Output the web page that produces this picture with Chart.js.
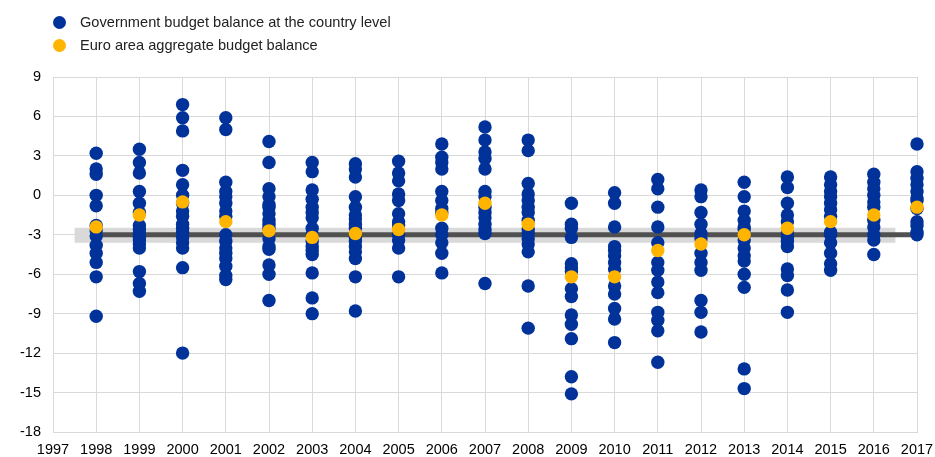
<!DOCTYPE html>
<html>
<head>
<meta charset="utf-8">
<script src="https://cdn.jsdelivr.net/npm/chart.js@4/dist/chart.umd.min.js"></script>
<style>
  body { margin: 0; background: #fff; font-family: "Liberation Sans", Arial, sans-serif; }
  #wrap { position: relative; width: 935px; height: 457px; }
  #legend { position: absolute; left: 53px; top: 12px; font-size: 14.6px; color: #222; }
  .item { height: 23px; line-height: 20px; white-space: nowrap; }
  .dot { display: inline-block; width: 13px; height: 13px; border-radius: 50%; vertical-align: -2px; margin-right: 14px; }
</style>
</head>
<body>
<div id="wrap">
  <div id="legend">
    <div class="item"><span class="dot" style="background:#003299"></span>Government budget balance at the country level</div>
    <div class="item"><span class="dot" style="background:#ffb400"></span>Euro area aggregate budget balance</div>
  </div>
  <canvas id="myChart" width="935" height="457"></canvas>
</div>
<script>
// budget balance, % of GDP
var years = [1998, 1999, 2000, 2001, 2002, 2003, 2004, 2005, 2006, 2007,
             2008, 2009, 2010, 2011, 2012, 2013, 2014, 2015, 2016, 2017];

// one list of country values per year
var countryBalances = [
  [3.2, 2.0, 1.6, 0.0, -0.8, -2.3, -2.7, -3.1, -3.8, -4.4, -5.1, -6.2, -9.2],
  [3.5, 2.5, 1.7, 0.3, -0.6, -1.3, -2.3, -2.6, -2.9, -3.2, -3.4, -3.7, -4.0, -5.8, -6.7, -7.3],
  [6.9, 5.9, 4.9, 1.9, 0.8, 0.0, -0.6, -1.2, -1.6, -2.2, -2.5, -2.8, -3.2, -3.6, -4.0, -5.5, -12.0],
  [5.9, 5.0, 1.0, 0.3, -0.1, -0.6, -1.2, -1.6, -3.0, -3.5, -4.0, -4.4, -4.8, -5.4, -6.1, -6.4],
  [4.1, 2.5, 0.5, -0.1, -0.7, -0.9, -1.4, -1.9, -2.2, -2.5, -3.3, -3.9, -4.1, -5.3, -6.0, -8.0],
  [2.5, 1.8, 0.4, -0.3, -0.9, -1.3, -1.7, -2.5, -3.0, -3.5, -3.9, -4.2, -4.5, -5.9, -7.8, -9.0],
  [2.4, 2.0, 1.4, -0.1, -0.9, -1.5, -1.8, -2.2, -2.5, -3.2, -3.5, -3.9, -4.3, -4.8, -6.2, -8.8],
  [2.6, 1.7, 1.1, 0.1, -0.4, -1.4, -2.0, -2.3, -3.0, -3.4, -4.0, -6.2],
  [3.9, 2.9, 2.5, 2.0, 0.3, -0.4, -1.0, -1.3, -2.5, -3.0, -3.6, -4.4, -5.9],
  [5.2, 4.2, 3.3, 2.8, 2.0, 0.3, -0.1, -0.9, -1.3, -1.7, -2.2, -2.6, -2.9, -6.7],
  [4.2, 3.4, 0.9, 0.1, -0.4, -0.9, -1.3, -1.9, -2.6, -2.9, -3.3, -3.7, -4.3, -6.9, -10.1],
  [-0.6, -2.2, -2.5, -3.2, -5.2, -5.5, -5.8, -7.1, -7.7, -9.1, -9.8, -10.9, -13.8, -15.1],
  [0.2, -0.6, -2.4, -3.9, -4.2, -4.6, -5.1, -5.6, -6.9, -7.5, -8.6, -9.4, -11.2],
  [1.2, 0.5, -0.9, -2.4, -3.6, -5.1, -5.7, -6.6, -7.4, -8.9, -9.5, -10.3, -12.7],
  [0.4, -0.1, -1.3, -2.2, -2.9, -3.3, -4.4, -5.1, -5.7, -8.0, -8.9, -10.4],
  [1.0, -0.1, -1.2, -1.9, -2.4, -2.6, -3.4, -4.0, -4.6, -5.0, -6.0, -7.0, -13.2, -14.7],
  [1.4, 0.6, -0.6, -1.5, -2.0, -2.9, -3.2, -3.5, -3.9, -5.6, -6.1, -7.2, -8.9],
  [1.4, 0.8, 0.3, -0.1, -0.6, -1.1, -1.6, -2.8, -3.0, -3.6, -4.4, -5.2, -5.7],
  [1.6, 1.0, 0.5, 0.0, -0.5, -0.9, -1.9, -2.4, -3.0, -3.4, -4.5],
  [3.9, 1.8, 1.3, 0.8, 0.3, -0.2, -0.4, -1.0, -2.0, -2.3, -2.8, -3.0]
];

var euroArea = [-2.4, -1.5, -0.5, -2.0, -2.7, -3.2, -2.9, -2.6, -1.5, -0.6,
                -2.2, -6.2, -6.2, -4.2, -3.7, -3.0, -2.5, -2.0, -1.5, -0.9];

// 3% deficit reference value
var thresholdValue = -3;
var yTicks = [-18, -15, -12, -9, -6, -3, 0, 3, 6, 9];

var countryPoints = [];
years.forEach(function(yr, i) {
  countryBalances[i].forEach(function(v) {
    countryPoints.push({x: yr, y: v});
  });
});
var euroPoints = years.map(function(yr, i) { return {x: yr, y: euroArea[i]}; });

var font = {family: '"Liberation Sans", Arial, sans-serif', size: 14.5};

var ctx = document.getElementById('myChart');
var myChart = new Chart(ctx, {
  type: 'scatter',
  data: {
    datasets: [
      {
        label: 'Government budget balance at the country level',
        data: countryPoints,
        backgroundColor: '#003299',
        borderWidth: 0,
        pointRadius: 6.7,
        order: 1,
        clip: false
      },
      {
        label: 'Euro area aggregate budget balance',
        data: euroPoints,
        backgroundColor: '#ffb400',
        borderWidth: 0,
        pointRadius: 6.7,
        order: 0,
        clip: false
      },
      {
        type: 'line',
        label: 'threshold',
        data: [{x: years[0], y: thresholdValue}, {x: years[years.length - 1], y: thresholdValue}],
        borderColor: '#505050',
        borderWidth: 5,
        pointRadius: 0,
        borderCapStyle: 'butt',
        order: 2
      },
      {
        type: 'line',
        label: 'band',
        data: [{x: years[0] - 0.5, y: thresholdValue - 0.03}, {x: years[years.length - 1] - 0.5, y: thresholdValue - 0.03}],
        borderColor: '#d9d9d9',
        borderWidth: 15,
        pointRadius: 0,
        borderCapStyle: 'butt',
        order: 3
      }
    ]
  },
  options: {
    responsive: false,
    animation: false,
    layout: { padding: {top: 77, right: 18, left: 0, bottom: 0} },
    plugins: {
      legend: { display: false },
      tooltip: { enabled: false }
    },
    scales: {
      x: {
        type: 'linear',
        min: 1997,
        max: 2017,
        ticks: {
          stepSize: 1,
          font: font,
          color: '#000',
          padding: 9,
          maxRotation: 0,
          autoSkip: false,
          callback: function(v) { return String(v); }
        },
        grid: { color: '#d9d9d9', drawTicks: false },
        border: { color: '#d9d9d9' },
        afterFit: function(s) { s.height = 25; s.paddingLeft = 0; s.paddingRight = 0; }
      },
      y: {
        min: -18,
        max: 9,
        afterBuildTicks: function(s) { s.ticks = yTicks.map(function(v) { return {value: v}; }); },
        ticks: { font: font, color: '#000', padding: 12 },
        grid: { color: '#d9d9d9', drawTicks: false },
        border: { color: '#d9d9d9' },
        afterFit: function(s) { s.width = 53; s.paddingTop = 0; s.paddingBottom = 0; }
      }
    }
  }
});
</script>
</body>
</html>
